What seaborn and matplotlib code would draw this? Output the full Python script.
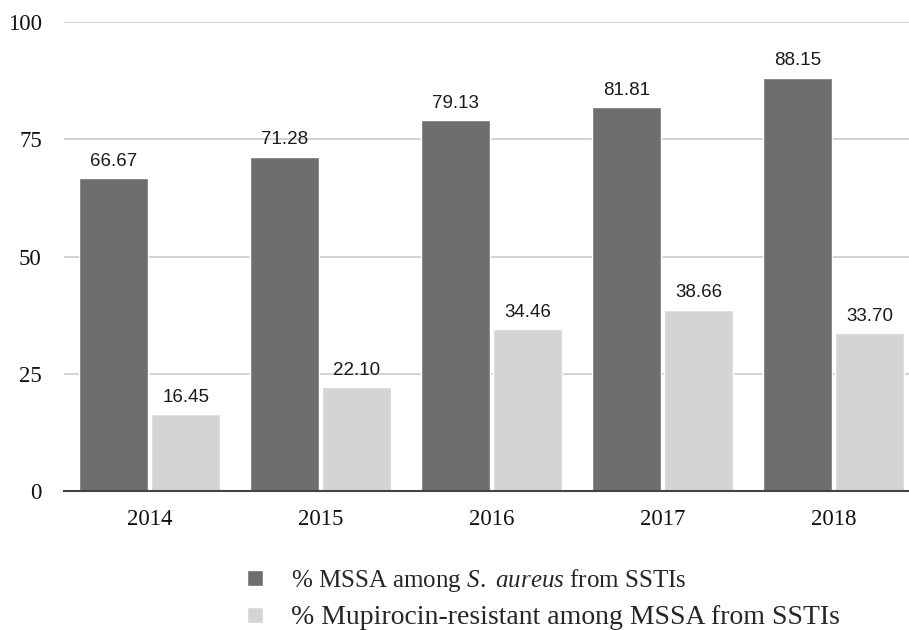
import matplotlib
matplotlib.use("Agg")
import matplotlib.pyplot as plt
import seaborn as sns
import pandas as pd

years = ["2014", "2015", "2016", "2017", "2018"]
mssa = [66.67, 71.28, 79.13, 81.81, 88.15]
mupirocin = [16.45, 22.10, 34.46, 38.66, 33.70]
series_names = ["% MSSA among $\\it{S.}$ $\\it{aureus}$ from SSTIs",
                "% Mupirocin-resistant among MSSA from SSTIs"]
yticks = [0, 25, 50, 75, 100]

sns.set_style("white")
plt.rcParams["font.family"] = ["Liberation Serif", "DejaVu Serif"]
plt.rcParams["mathtext.fontset"] = "custom"
plt.rcParams["mathtext.rm"] = "Liberation Serif"
plt.rcParams["mathtext.it"] = "Liberation Serif:italic"

df = pd.DataFrame({
    "year": years * 2,
    "value": mssa + mupirocin,
    "series": [series_names[0]] * len(years) + [series_names[1]] * len(years),
})

fig = plt.figure(figsize=(9.09, 6.3), dpi=100)
ax = fig.add_axes([0.0704, 0.2206, 0.9406, 0.7444])

sns.barplot(data=df, x="year", y="value", hue="series",
            palette=["#6e6e6e", "#d4d4d4"], width=0.848, gap=0.048,
            saturation=1, ax=ax, legend=True)

for cont in ax.containers:
    labels = [f"{v:.2f}" for v in cont.datavalues]
    ax.bar_label(cont, labels=labels, padding=6, fontsize=13.5,
                 family="Liberation Sans", color="#1a1a1a")

ax.set_ylim(0, 100)
ax.set_yticks(yticks)
ax.set_xlim(-0.5, 4.5)
ax.set_xlabel("")
ax.set_ylabel("")
ax.yaxis.grid(True, color="#d0d0d0", linewidth=1.3)
ax.set_axisbelow(True)
for s in ["top", "right", "left"]:
    ax.spines[s].set_visible(False)
ax.spines["bottom"].set_color("#444444")
ax.spines["bottom"].set_linewidth(1.5)
ax.tick_params(axis="y", length=0, pad=16, labelsize=16.5, labelcolor="#111111")
ax.tick_params(axis="x", length=0, pad=13, labelsize=16.5, labelcolor="#111111")

handles, labels = ax.get_legend_handles_labels()
ax.get_legend().remove()
leg = fig.legend(handles, labels, loc="center left", bbox_to_anchor=(0.272, 0.05),
                 frameon=False, fontsize=18, handlelength=0.62, handleheight=0.62,
                 handletextpad=1.15, labelspacing=0.45, borderaxespad=0, borderpad=0)
texts = leg.get_texts()
texts[0].set_fontsize(18)
texts[1].set_fontsize(20)

fig.savefig("out.png", dpi=100)
